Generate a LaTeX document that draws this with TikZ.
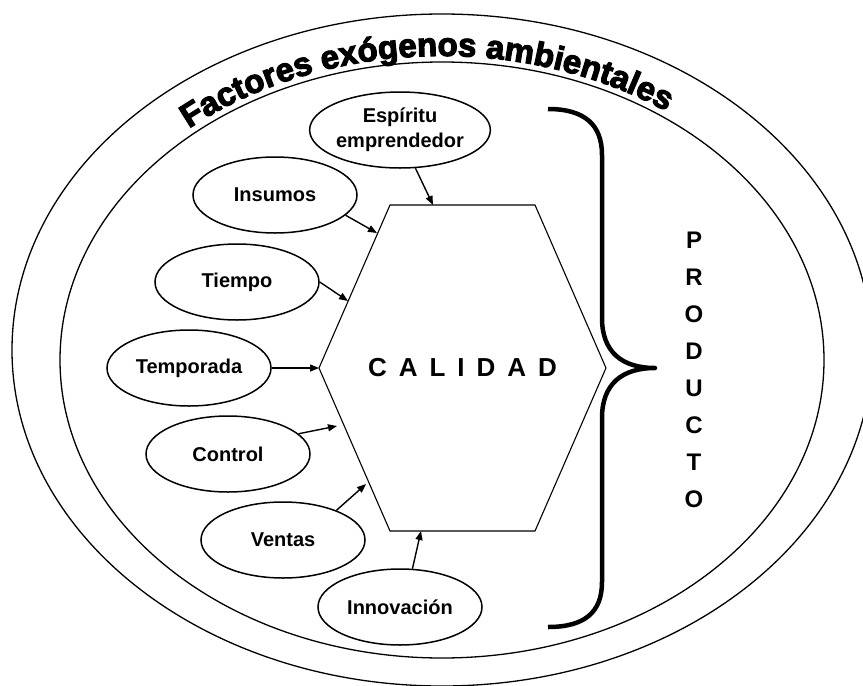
\documentclass[tikz,border=0pt]{standalone}
\usepackage{fontspec}
\setmainfont{Liberation Sans}
\newfontfamily\titlefont[FakeBold=3.5]{Liberation Sans}
\usetikzlibrary{shapes.geometric,arrows.meta,decorations.text}

\tikzset{
  factor/.style={ellipse, draw, line width=1.5pt, minimum width=164pt, minimum height=76pt,
    inner sep=0pt, align=center, font=\fontsize{20}{25}\selectfont\bfseries},
  flecha/.style={-{Triangle[length=9pt,width=7pt]}, line width=1.4pt},
  borde/.style={line width=1.3pt}
}

\begin{document}
\begin{tikzpicture}[x=1pt,y=-1pt]
  \useasboundingbox (0,0) rectangle (863,686);
  % Ambient ellipses
  \coordinate (ctr) at (442,360);
  \draw[borde] (442,350) ellipse [x radius=430, y radius=336];
  \draw[borde] (ctr) ellipse [x radius=382, y radius=298];
  % Add title
  \path[decorate, decoration={text along path, text align=center,
      text={|\titlefont\bfseries\fontsize{33}{33}\selectfont|Factores exógenos ambientales}}]
    ([shift={(198:390 and 304)}]ctr) arc[start angle=198, end angle=336, x radius=390, y radius=304];

  % Hexagon
  \coordinate (h1) at (390,205);
  \coordinate (h2) at (535,205);
  \coordinate (h3) at (606,368);
  \coordinate (h4) at (535,531);
  \coordinate (h5) at (390,531);
  \coordinate (h6) at (319,368);
  \draw[line width=1.1pt] (h1) -- (h2) -- (h3) -- (h4) -- (h5) -- (h6) -- cycle;
  \node[font=\fontsize{26}{26}\selectfont\bfseries] (cal) at (462.5,368) {\spaceskip=12pt C A L I D A D};

  % Factors
  \node[factor] (esp) at (400,130) {Espíritu\\emprendedor};
  \node[factor] (ins) at (275,195) {Insumos};
  \node[factor] (tie) at (237,282) {Tiempo};
  \node[factor] (tem) at (189,368) {Temporada};
  \node[factor] (con) at (228,454) {Control};
  \node[factor] (ven) at (283,540) {Ventas};
  \node[factor] (inn) at (400,607) {Innovación};

  % Arrows into the hexagon
  \coordinate (aesp) at (433,205);
  \coordinate (ains) at (377,233);
  \coordinate (atie) at (348,301);
  \coordinate (acon) at (337,426);
  \coordinate (aven) at (366,484);
  \coordinate (ainn) at (421,531);
  \draw[flecha] (esp.-68) -- (aesp);
  \draw[flecha] (ins.-16) -- (ains);
  \draw[flecha] (tie.east) -- (atie);
  \draw[flecha] (tem.east) -- (h6);
  \draw[flecha] (con.16) -- (acon);
  \draw[flecha] (ven.29) -- (aven);
  \draw[flecha] (inn.72) -- (ainn);

  % Brace and product
  \draw[line width=4.5pt, line join=round]
    (548,109) .. controls (585,109) and (602,125) .. (602,155) -- (602,318)
    .. controls (602,352) and (622,368) .. (655,368)
    .. controls (622,368) and (602,384) .. (602,418) -- (602,582)
    .. controls (602,612) and (585,627) .. (548,627);
  \node[font=\fontsize{24}{37}\selectfont\bfseries, align=center] (prod) at (694,370) {P\\R\\O\\D\\U\\C\\T\\O};
\end{tikzpicture}
\end{document}
